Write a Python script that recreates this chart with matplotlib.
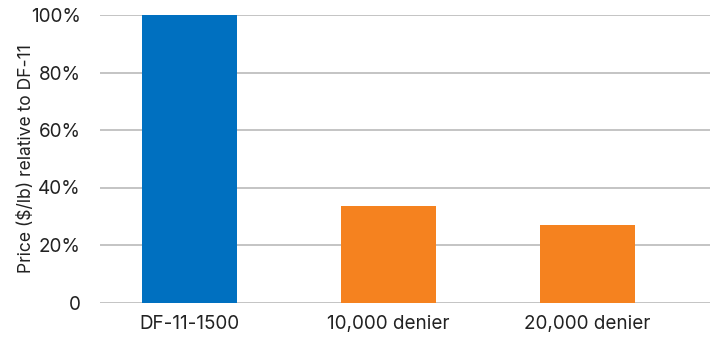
import matplotlib
matplotlib.use("Agg")
import matplotlib.pyplot as plt
from matplotlib.ticker import FuncFormatter

categories = ["DF-11-1500", "10,000 denier", "20,000 denier"]
values = [100, 33.6, 27.0]
colors = ["#0070C0", "#F5821F", "#F5821F"]
yticks = [0, 20, 40, 60, 80, 100]

plt.rcParams['font.family'] = ['Inter', 'DejaVu Sans']

W, H = 710, 337
fig = plt.figure(figsize=(W / 100, H / 100), dpi=100)
ax = fig.add_axes([100 / W, (H - 302.5) / H, (W - 100) / W, (302.5 - 15) / H])

x = list(range(len(categories)))
ax.bar(x, values, width=0.48, color=colors, zorder=3, clip_on=False)

ax.set_xlim(-0.45, 2.615)
ax.set_ylim(0, 100)
ax.set_yticks(yticks)
ax.yaxis.set_major_formatter(FuncFormatter(lambda v, p: "0" if v == 0 else f"{int(v)}%"))
ax.set_xticks(x)
ax.set_xticklabels(categories)

ax.grid(axis='y', color='#BFBFBF', linewidth=1.3, zorder=0)
for s in ax.spines.values():
    s.set_visible(False)
ax.tick_params(axis='both', length=0, labelsize=13.6, colors='#222222')
ax.tick_params(axis='y', pad=14)
ax.tick_params(axis='x', pad=9)

ax.set_ylabel("Price ($/lb) relative to DF-11", fontsize=12.6, color='#222222', labelpad=-3)

fig.savefig("out.png", dpi=100)
